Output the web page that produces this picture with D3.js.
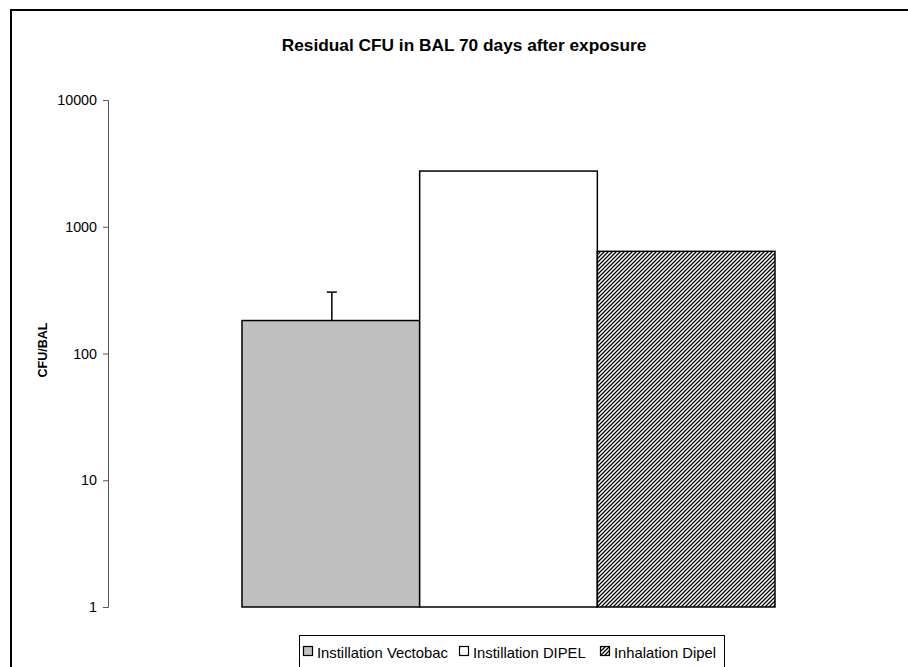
<!DOCTYPE html>
<html><head><meta charset="utf-8">
<script src="https://cdnjs.cloudflare.com/ajax/libs/d3/7.8.5/d3.min.js"></script>
<style>body{margin:0;background:#fff}svg{display:block;font-family:"Liberation Sans",Arial,sans-serif}</style>
</head><body><svg id="c" width="908" height="667"></svg>
<script>
const series = ["Instillation Vectobac", "Instillation DIPEL", "Inhalation Dipel"];
const values = [182, 2750, 640];
const errorTop = [305, null, null];
const tickValues = [1, 10, 100, 1000, 10000];
const fills = ["#c0c0c0", "#ffffff", "url(#hatch)"];

const svg = d3.select("#c");
const defs = svg.append("defs");
const pat = defs.append("pattern").attr("id","hatch").attr("patternUnits","userSpaceOnUse")
  .attr("width",4).attr("height",4);
pat.append("rect").attr("width",4).attr("height",4).attr("fill","#fff");
pat.append("path").attr("d","M-1,1 l2,-2 M0,4 l4,-4 M3,5 l2,-2").attr("stroke","#000").attr("stroke-width",1.25);

// outer frame
svg.append("rect").attr("x",11).attr("y",10).attr("width",920).attr("height",700)
  .attr("fill","none").attr("stroke","#000").attr("stroke-width",2);

const y = d3.scaleLog().domain([1,10000]).range([607,100]);
const x = d3.scaleBand().domain(series).range([242,775]).padding(0);

// title
svg.append("text").attr("x",464).attr("y",51).attr("text-anchor","middle")
  .attr("font-weight","bold").attr("font-size",17.3).text("Residual CFU in BAL 70 days after exposure");

// y axis
const ax = svg.append("g").attr("transform","translate(108,0)")
  .call(d3.axisLeft(y).tickValues(tickValues).tickFormat(d3.format("d")).tickSize(5).tickPadding(6));
ax.select(".domain").attr("stroke","#555").attr("d","M-5,100.5H0.5V607.5H-5");
ax.selectAll(".tick line").attr("stroke","#555");
ax.selectAll(".tick text").attr("font-size",14.3).attr("fill","#000").attr("font-family","Liberation Sans, Arial, sans-serif");

svg.append("text").attr("transform","translate(47,350) rotate(-90)").attr("text-anchor","middle")
  .attr("font-weight","bold").attr("font-size",12.5).text("CFU/BAL");

// bars
svg.selectAll("rect.bar").data(series).enter().append("rect").attr("class","bar")
  .attr("x",d=>x(d)).attr("width",x.bandwidth())
  .attr("y",(d,i)=>y(values[i])).attr("height",(d,i)=>y(1)-y(values[i]))
  .attr("fill",(d,i)=>fills[i]).attr("stroke","#000").attr("stroke-width",1.5);

// error bars
series.forEach((s,i)=>{
  if(errorTop[i]==null) return;
  const cx = x(s)+x.bandwidth()/2+1;
  svg.append("line").attr("x1",cx).attr("x2",cx).attr("y1",y(values[i])).attr("y2",y(errorTop[i])).attr("stroke","#000").attr("stroke-width",1.5);
  svg.append("line").attr("x1",cx-5).attr("x2",cx+5).attr("y1",y(errorTop[i])).attr("y2",y(errorTop[i])).attr("stroke","#000").attr("stroke-width",1.5);
});

// legend
const lg = svg.append("g");
lg.append("rect").attr("x",299.5).attr("y",635.5).attr("width",425).attr("height",60).attr("fill","#fff").attr("stroke","#000").attr("stroke-width",1);
const lx = [303, 459, 600];
series.forEach((s,i)=>{
  lg.append("rect").attr("x",lx[i]+0.5).attr("y",646.5).attr("width",9).attr("height",9).attr("fill",fills[i]).attr("stroke","#000").attr("stroke-width",1.2);
  lg.append("text").attr("x",lx[i]+14).attr("y",658).attr("font-size",14.8).text(s);
});
</script></body></html>
